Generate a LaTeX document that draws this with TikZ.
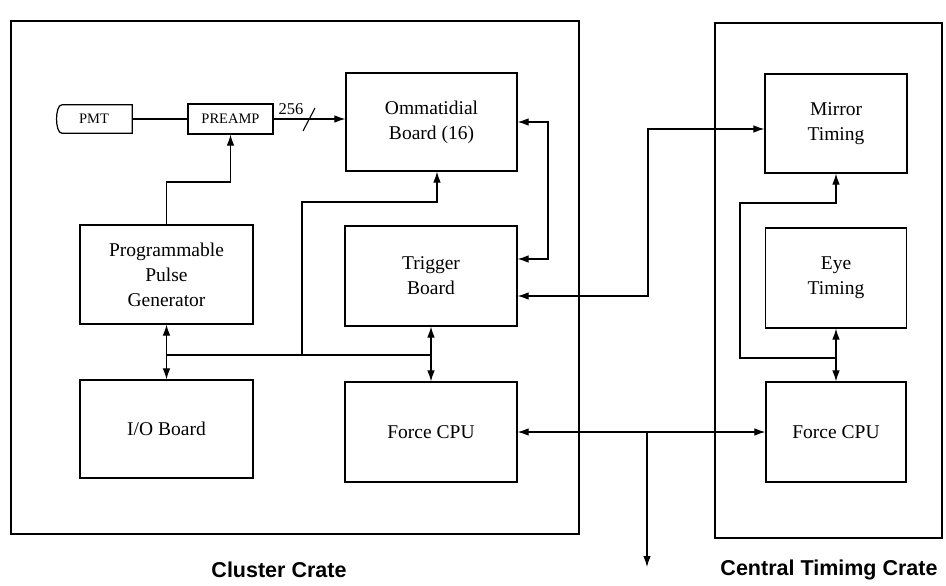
\documentclass[tikz,border=0pt]{standalone}
\usepackage{fontspec}
\setmainfont{Liberation Serif}
\newfontfamily\labfont{Liberation Sans}
\usetikzlibrary{arrows.meta,calc}
\tikzset{
  box/.style={draw, line width=1.2pt, align=center, inner sep=0pt, font=\fontsize{19.5}{25}\selectfont},
  smallbox/.style={align=center, inner sep=0pt, font=\fontsize{14.5}{16}\selectfont},
  crate/.style={draw, line width=1.5pt},
  conn/.style={line width=1.1pt},
  arr/.style={conn, -{Latex[length=11pt,width=7.5pt]}},
  darr/.style={conn, {Latex[length=11pt,width=7.5pt]}-{Latex[length=11pt,width=7.5pt]}},
  cratelabel/.style={font=\labfont\bfseries\fontsize{21.5}{24}\selectfont}
}
\begin{document}
\begin{tikzpicture}[x=1pt,y=-1pt]
\useasboundingbox (0,0) rectangle (946,586);
% crates
\draw[crate] (11,21) rectangle (579,534);
\draw[crate] (715,23) rectangle (942,538);
% boxes
\node[box, minimum width=171, minimum height=98] (omm) at (431.5,122) {Ommatidial\\Board (16)};
\node[box, minimum width=172, minimum height=100] (trig) at (431,276) {Trigger\\Board};
\node[box, minimum width=173, minimum height=99] (ppg) at (166.5,274.5) {Programmable\\Pulse\\Generator};
\node[box, minimum width=173, minimum height=98] (io) at (166.5,429) {I/O Board};
\node[box, minimum width=172, minimum height=100] (fcpu) at (431,432) {Force CPU};
\node[box, minimum width=142, minimum height=99] (mirror) at (836,123.5) {Mirror\\Timing};
\node[box, minimum width=141, minimum height=100] (eye) at (836,278) {Eye\\Timing};
\node[box, minimum width=140, minimum height=100] (cfcpu) at (836,432) {Force CPU};
% PMT and PREAMP
\node[smallbox, minimum width=76, minimum height=28] (pmt) at (94,119) {PMT};
\draw[line width=1.2pt] ([xshift=6]pmt.north west) -- (pmt.north east) -- (pmt.south east) -- ([xshift=6]pmt.south west)
  .. controls ([xshift=-1]pmt.south west) and ([xshift=-1]pmt.north west) .. ([xshift=6]pmt.north west);
\node[smallbox, draw, line width=1.2pt, minimum width=85, minimum height=30] (preamp) at (230.5,119) {PREAMP};
% connectors
\draw[conn] (pmt.east) -- (preamp.west);
\draw[arr] (preamp.east) -- (preamp.east -| omm.west);
\node[font=\fontsize{16.5}{18}\selectfont, inner sep=0pt] (n256) at (291,109) {256};
\draw[conn] (303,131) -- (315,108);
\draw[arr] (ppg.north) -- (166.5,182) -| (preamp.south);
\draw[darr] (ppg.south) -- (io.north);
\draw[darr] (trig.south) -- (fcpu.north);
\coordinate (bus1) at (166.5,355);
\coordinate (bus2) at (431,355);
\coordinate (bus3) at (302,355);
\draw[conn] (bus1) -- (bus2);
\draw[arr] (bus3) -- (302,202) -| ([xshift=5.5]omm.south);
\draw[darr] (omm.east) -- (548,122) |- ([yshift=17]trig.east);
\draw[darr] ([yshift=-20]trig.east) -- (648,296) |- ([yshift=-5.5]mirror.west);
\draw[darr] (fcpu.east) -- (cfcpu.west);
\coordinate (br) at (647,432);
\coordinate (out) at (647,567);
\draw[arr] (br) -- (out);
\draw[darr] (eye.south) -- (cfcpu.north);
\coordinate (j1) at (836,358);
\draw[arr] (j1) -- (740,358) -- (740,203) -| (mirror.south);
% crate labels
\node[cratelabel] (lc) at (279,570) {Cluster Crate};
\node[cratelabel] (lt) at (829,570) {Central Timimg Crate};
\end{tikzpicture}
\end{document}
